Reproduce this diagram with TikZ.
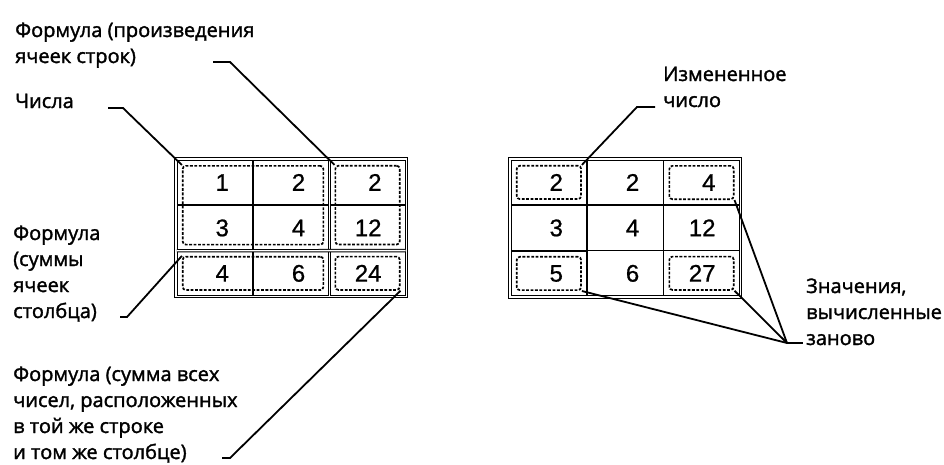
\documentclass[tikz,border=0pt]{standalone}
\usepackage{fontspec}
\newfontfamily\labelfamily{Open Sans}[RawFeature={embolden=1.6}]
\newfontfamily\digitfamily{Liberation Sans}[RawFeature={embolden=0.8}]
\usetikzlibrary{positioning,matrix,fit}
\tikzset{
  sheet/.style={matrix of nodes, inner sep=0pt, outer sep=0pt,
    column sep=-1.5pt, row sep=-1.5pt,
    nodes={draw, line width=1.5pt, text width=28pt, inner xsep=24.15pt,
      minimum height=45.3pt, align=right, inner ysep=0pt,
      font=\digitfamily\fontsize{24}{24}\selectfont}},
  frame/.style={double, line width=1pt, double distance=1.3pt},
  dsep/.style={double, line width=1pt, double distance=1.3pt},
  dbox/.style={draw, dash pattern=on 2.8pt off 1.6pt, line width=1.7pt, rounded corners=3pt, inner sep=-6pt},
  lbl/.style={font=\labelfamily\fontsize{20}{26}\selectfont, align=left, inner sep=0pt, anchor=base west},
  lead/.style={line width=1.8pt}
}
\begin{document}
\begin{tikzpicture}[x=1pt, y=-1pt]
\useasboundingbox (0,0) rectangle (944,464);
% left sheet
\matrix[sheet, anchor=north west] (L) at (176,159) {
  1 & 2 & 2 \\
  3 & 4 & 12 \\
  4 & 6 & 24 \\
};
\draw[frame] (L.north west) rectangle (L.south east);
\draw[dsep] (L-1-3.north west) -- (L-3-3.south west);
\draw[dsep] (L-3-1.north west) -- (L-3-3.north east);
\node[dbox, fit=(L-1-1)(L-2-2)] (Lnum) {};
\node[dbox, fit=(L-1-3)(L-2-3)] (Lprod) {};
\node[dbox, fit=(L-3-1)(L-3-2)] (Lcol) {};
\node[dbox, fit=(L-3-3)] (Ltot) {};

% right sheet
\matrix[sheet, anchor=north west] (R) at (510,159) {
  2 & 2 & 4 \\
  3 & 4 & 12 \\
  5 & 6 & 27 \\
};
\draw[frame] (R.north west) rectangle (R.south east);
\node[dbox, fit=(R-1-1)] (Rchg) {};
\node[dbox, fit=(R-1-3)] (Rprod) {};
\node[dbox, fit=(R-3-1)] (Rcol) {};
\node[dbox, fit=(R-3-3)] (Rtot) {};

% labels (base = last line)
\node[lbl] (prodlbl) at (15,63) {Формула (произведения\\ячеек строк)};
\node[lbl] (numlbl) at (15,108) {Числа};
\node[lbl] (collbl) at (13,318) {Формула\\(суммы\\ячеек\\столбца)};
\node[lbl] (totlbl) at (13,459) {Формула (сумма всех\\чисел, расположенных\\в той же строке\\и том же столбце)};
\node[lbl] (chglbl) at (663,107) {Измененное\\число};
\node[lbl] (newlbl) at (806,345) {Значения,\\вычисленные\\заново};

% leaders
\coordinate (prodelbow) at (213,62);
\coordinate (numelbow) at (108,108);
\coordinate (colelbow) at (120,317);
\coordinate (totelbow) at (222,458);
\coordinate (chgelbow) at (655,107);
\coordinate (hub) at (787,343);
\draw[lead] (prodelbow) -- ++(17,0) -- (Lprod.north west);
\draw[lead] (numelbow) -- ++(15,0) -- (Lnum.north west);
\draw[lead] (colelbow) -- ++(7,0) -- (Lcol.north west);
\draw[lead] (totelbow) -- ++(8,0) -- (Ltot.south east);
\draw[lead] (chgelbow) -- ++(-18,0) -- (Rchg.north east);
\draw[lead] (hub) -- ++(16,0);
\draw[lead] (Rprod.south east) -- (hub);
\draw[lead] (Rtot.south east) -- (hub);
\draw[lead] (Rcol.south east) -- (hub);
\end{tikzpicture}
\end{document}
